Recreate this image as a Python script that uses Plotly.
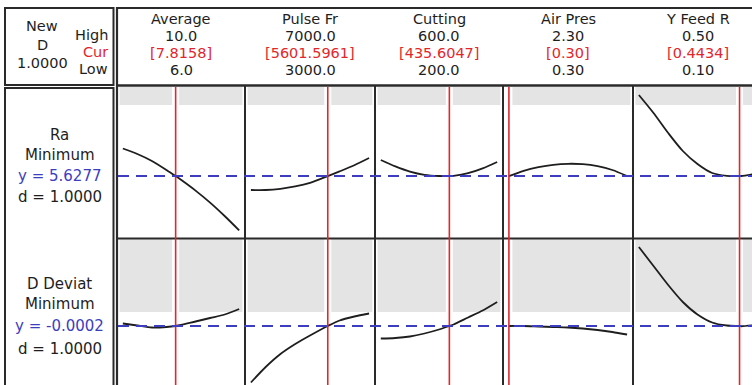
import plotly.graph_objects as go

W, H = 752, 385

# ---------------- data ----------------
factors = ["Average", "Pulse Fr", "Cutting", "Air Pres", "Y Feed R"]
high_labels = ["10.0", "7000.0", "600.0", "2.30", "0.50"]
cur_labels = ["[7.8158]", "[5601.5961]", "[435.6047]", "[0.30]", "[0.4434]"]
low_labels = ["6.0", "3000.0", "200.0", "0.30", "0.10"]
highs = [10.0, 7000.0, 600.0, 2.30, 0.50]
lows = [6.0, 3000.0, 200.0, 0.30, 0.10]
current = [7.8158, 5601.5961, 435.6047, 0.30, 0.4434]

responses = ["Ra", "D Deviat"]
goals = ["Minimum", "Minimum"]
y_pred = [5.6277, -0.0002]
y_labels = ["y = 5.6277", "y = -0.0002"]
d_labels = ["d = 1.0000", "d = 1.0000"]
composite_label = "1.0000"

# factor grids for the profile curves
avg_x = [6.0, 6.5, 7.0, 7.5, 7.8158, 8.0, 8.5, 9.0, 9.5, 10.0]
pulse_x = [3000, 3500, 4000, 4500, 5000, 5601.5961, 6000, 6500, 7000]
cut_x = [200, 250, 300, 350, 400, 435.6047, 450, 500, 550, 600]
air_x = [0.30, 0.55, 0.80, 1.05, 1.30, 1.55, 1.80, 2.05, 2.30]
feed_x = [0.10, 0.15, 0.20, 0.25, 0.30, 0.35, 0.40, 0.4434, 0.45, 0.50]

# Ra profiles
ra_avg = [6.318, 6.18, 6.005, 5.78, 5.6277, 5.535, 5.265, 4.965, 4.63, 4.27]
ra_pulse = [5.28, 5.28, 5.31, 5.37, 5.46, 5.6277, 5.745, 5.90, 6.08]
ra_cut = [6.03, 5.87, 5.74, 5.66, 5.63, 5.6277, 5.635, 5.70, 5.82, 5.98]
ra_air = [5.6277, 5.76, 5.85, 5.91, 5.935, 5.925, 5.875, 5.78, 5.63]
ra_feed = [7.655, 7.205, 6.705, 6.255, 5.93, 5.705, 5.635, 5.6277, 5.63, 5.69]

# D Deviat profiles
dd_avg = [0.0008, 0.0000, -0.0008, -0.0006, -0.0002, 0.0002, 0.0016, 0.0030, 0.0044, 0.0066]
dd_pulse = [-0.0228, -0.0166, -0.0114, -0.0074, -0.0040, -0.0002, 0.0020, 0.0036, 0.0048]
dd_cut = [-0.0052, -0.0050, -0.0044, -0.0032, -0.0016, -0.0002, 0.0004, 0.0032, 0.0060, 0.0094]
dd_air = [-0.0002, -0.0002, -0.0004, -0.0006, -0.0008, -0.0012, -0.0018, -0.0026, -0.0036]
dd_feed = [0.0314, 0.0238, 0.0162, 0.0094, 0.0044, 0.0012, 0.0000, -0.0002, -0.0003, 0.0002]

x_grids = [avg_x, pulse_x, cut_x, air_x, feed_x]
profiles = [[ra_avg, ra_pulse, ra_cut, ra_air, ra_feed],
            [dd_avg, dd_pulse, dd_cut, dd_air, dd_feed]]

# lower edge of the shaded band, per response
shade_from = [7.405, 0.0054]
# vertical axis ranges per response
y_ranges = [[4.08, 7.855], [-0.0238, 0.0346]]

# ---------------- layout geometry (pixels) ----------------
col_px = [117, 245, 375, 503, 633, 762]
row_px = [(87, 238), (239, 385)]
pad = 0.05

FONT = "DejaVu Sans"
FS = 15
HFS = 14.5
BLACK = "#1e1e1e"
RED = "#e3262b"
BLUE = "#3d3dbf"
GRAY = "#e4e4e4"
LINE = "#2a2a2a"


def px(x):
    return x / W


def py(y):
    return 1 - y / H


fig = go.Figure()
layout = dict(
    width=W, height=H, margin=dict(l=0, r=0, t=0, b=0),
    paper_bgcolor="white", plot_bgcolor="white", showlegend=False,
    font=dict(family=FONT, size=FS, color=BLACK),
)
shapes = []
annotations = []


def ax_id(k):
    return "" if k == 1 else str(k)


for r in range(2):
    for c in range(5):
        k = r * 5 + c + 1
        left, right = col_px[c], col_px[c + 1]
        span = highs[c] - lows[c]
        lo = lows[c] - pad * span
        hi = highs[c] + pad * span
        dom_right = right
        if right > W:
            hi = lo + (hi - lo) * (W - left) / (right - left)
            dom_right = W
        top, bot = row_px[r]
        layout["xaxis" + ax_id(k)] = dict(domain=[px(left), px(dom_right)], range=[lo, hi],
                                         visible=False, fixedrange=True, anchor="y" + ax_id(k))
        layout["yaxis" + ax_id(k)] = dict(domain=[max(py(bot), 0), py(top)], range=y_ranges[r],
                                         visible=False, fixedrange=True, anchor="x" + ax_id(k))
        fig.add_trace(go.Scatter(
            x=x_grids[c], y=profiles[r][c], mode="lines",
            line=dict(color=BLACK, width=1.8, shape="spline", smoothing=0.8),
            xaxis="x" + ax_id(k), yaxis="y" + ax_id(k), hoverinfo="skip"))
        # shaded band
        shapes.append(dict(type="rect", xref="x" + ax_id(k) + " domain", yref="y" + ax_id(k),
                           x0=0.02, x1=0.98 if right <= W else 1.0,
                           y0=shade_from[r], y1=y_ranges[r][1],
                           fillcolor=GRAY, line=dict(width=0), layer="below"))

# white gap around the current-setting lines
for c in range(5):
    shapes.append(dict(type="line", xref="x" + ax_id(c + 1), yref="paper",
                       x0=current[c], x1=current[c], y0=0, y1=py(86),
                       line=dict(color="white", width=7), layer="below"))

# frames and separators
def seg(x0, y0, x1, y1, w=2, color=LINE):
    shapes.append(dict(type="line", xref="paper", yref="paper",
                       x0=px(x0), y0=py(y0), x1=px(x1), y1=py(y1),
                       line=dict(color=color, width=w), layer="above"))

def box(x0, y0, x1, y1, w=2):
    shapes.append(dict(type="rect", xref="paper", yref="paper",
                       x0=px(x0), y0=py(y0), x1=px(x1), y1=py(y1),
                       line=dict(color=LINE, width=w), fillcolor="rgba(0,0,0,0)", layer="above"))

box(5, 8, 113.5, 85)
box(5, 88, 113.5, 400)
seg(117, 8, 760, 8)
seg(117, 7, 117, 400, 2.2)
seg(117, 85.5, 760, 85.5, 2.6)
seg(117, 238.5, 760, 238.5, 2)
for xc in col_px[1:5]:
    seg(xc, 85, xc, 400, 2)

# current-setting red lines
for c in range(5):
    shapes.append(dict(type="line", xref="x" + ax_id(c + 1), yref="paper",
                       x0=current[c], x1=current[c], y0=0, y1=py(87),
                       line=dict(color=RED, width=1.6), layer="above"))

# predicted response dashed lines
for r in range(2):
    k = r * 5 + 1
    shapes.append(dict(type="line", xref="paper", yref="y" + ax_id(k),
                       x0=px(118), x1=1, y0=y_pred[r], y1=y_pred[r],
                       line=dict(color=BLUE, width=2, dash="11px,7px"), layer="above"))


def text(x, y, s, color=BLACK, xanchor="center", size=FS):
    annotations.append(dict(xref="paper", yref="paper", x=px(x), y=py(y), text=s,
                            showarrow=False, xanchor=xanchor, yanchor="middle",
                            borderpad=0,
                            font=dict(family=FONT, size=size, color=color)))

# header
header_y = [19, 36, 53, 70]
for c in range(5):
    xc = (col_px[c] + col_px[c + 1]) / 2
    text(xc, header_y[0], factors[c], size=HFS)
    text(xc, header_y[1], high_labels[c], size=HFS)
    text(xc, header_y[2], cur_labels[c], RED, size=HFS)
    text(xc, header_y[3], low_labels[c], size=HFS)

text(42, 26, "New", size=HFS)
text(42, 45, "D", size=HFS)
text(42, 63, composite_label, size=HFS)
text(109, 35, "High", xanchor="right", size=HFS)
text(109, 52, "Cur", RED, xanchor="right", size=HFS)
text(109, 69, "Low", xanchor="right", size=HFS)

# row labels
row_label_y = [[135, 154.5, 176, 197], [283.5, 304, 326, 349]]
for r in range(2):
    ys = row_label_y[r]
    text(59.5, ys[0], responses[r])
    text(59.5, ys[1], goals[r])
    text(59.5, ys[2], y_labels[r], BLUE)
    text(59.5, ys[3], d_labels[r])

layout["shapes"] = shapes
layout["annotations"] = annotations
fig.update_layout(**layout)
fig.write_html("out.html")
